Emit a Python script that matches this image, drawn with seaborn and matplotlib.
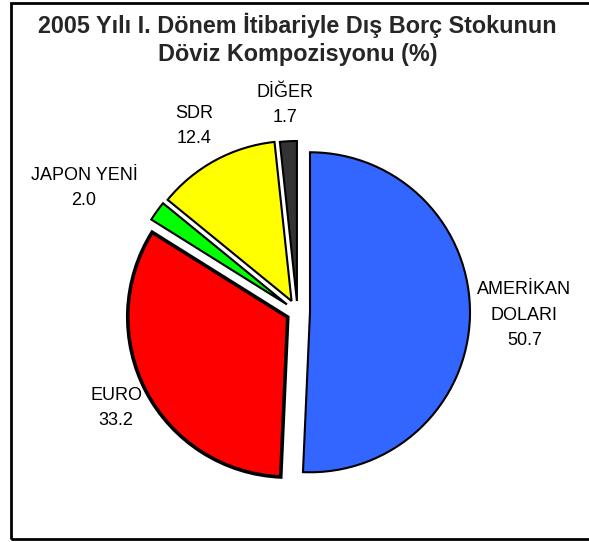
import matplotlib
matplotlib.use("Agg")
import matplotlib.pyplot as plt
from matplotlib.patches import Rectangle
import seaborn as sns

# data
categories = ["AMERİKAN\nDOLARI", "EURO", "JAPON YENİ", "SDR", "DİĞER"]
shares = [50.7, 33.2, 2.0, 12.4, 1.7]
colors = ["#3366FF", "#FF0000", "#00FF00", "#FFFF00", "#333333"]
title_lines = ["2005 Yılı I. Dönem İtibariyle Dış Borç Stokunun",
               "Döviz Kompozisyonu (%)"]

# layout (pixel units, y measured from the top of the image)
W, H = 589, 542
center = (297.5, 312)
radius = 160
explode = [12.5, 11, 13, 12.5, 11]
label_pos = [(524.5, 315), (116, 408), (84, 188), (194, 126), (285, 105)]

sns.set_style("white")
plt.rcParams["font.family"] = ["Liberation Sans", "DejaVu Sans"]

fig = plt.figure(figsize=(W / 100, H / 100), dpi=100)
ax = fig.add_axes([0, 0, 1, 1])

wedges, _ = ax.pie(shares, colors=colors, explode=explode, radius=radius,
                   center=(center[0], H - center[1]), startangle=90,
                   counterclock=False, normalize=True, frame=False,
                   wedgeprops=dict(edgecolor="black", linewidth=1.5))
wedges[1].set_linewidth(2.6)

for name, val, (x, y) in zip(categories, shares, label_pos):
    ax.text(x, H - y, f"{name}\n{val:.1f}", ha="center", va="center",
            fontsize=13, linespacing=1.65, color="black")

ax.text(297.5, H - 33, title_lines[0], ha="center", va="baseline",
        fontsize=16.8, fontweight="bold")
ax.text(297.5, H - 61, title_lines[1], ha="center", va="baseline",
        fontsize=16.8, fontweight="bold")

ax.add_patch(Rectangle((11, H - 539), 600, 536, fill=False,
                       edgecolor="black", linewidth=2, clip_on=False))

ax.set_xlim(0, W)
ax.set_ylim(0, H)
ax.set_aspect("equal")
ax.axis("off")

fig.savefig("out.png", dpi=100)
